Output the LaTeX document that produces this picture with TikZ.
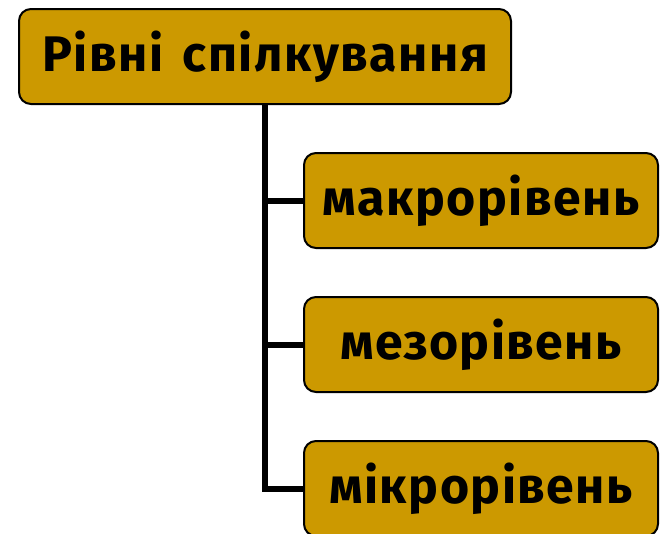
\documentclass[tikz,border=0pt]{standalone}
\usepackage{fontspec}
\setmainfont{Fira Sans}[LetterSpace=3]
\definecolor{boxgold}{HTML}{CC9900}
\begin{document}
\begin{tikzpicture}[x=1pt,y=-1pt,
  lvlbox/.style={draw=black, line width=2pt, fill=boxgold, rounded corners=12pt,
    inner sep=0pt, minimum height=95pt, font=\fontsize{50}{54}\selectfont\bfseries},
  conn/.style={draw=black, line width=6pt}]
\useasboundingbox (0,0) rectangle (663,533);
\clip (0,0) rectangle (663,533);
\node[lvlbox, minimum width=492pt] (top) at (265,56.5) {Рівні\hspace{6pt} спілкування};
\node[lvlbox, minimum width=354pt] (b2) at (481,200.5) {макрорівень};
\node[lvlbox, minimum width=354pt] (b3) at (481,344.5) {мезорівень};
\node[lvlbox, minimum width=354pt] (b4) at (481,488.5) {мікрорівень};
\draw[conn] (top.south) -- (top.south |- b4.west) -- (b4.west);
\draw[conn] (top.south |- b2.west) -- (b2.west);
\draw[conn] (top.south |- b3.west) -- (b3.west);
\end{tikzpicture}
\end{document}
